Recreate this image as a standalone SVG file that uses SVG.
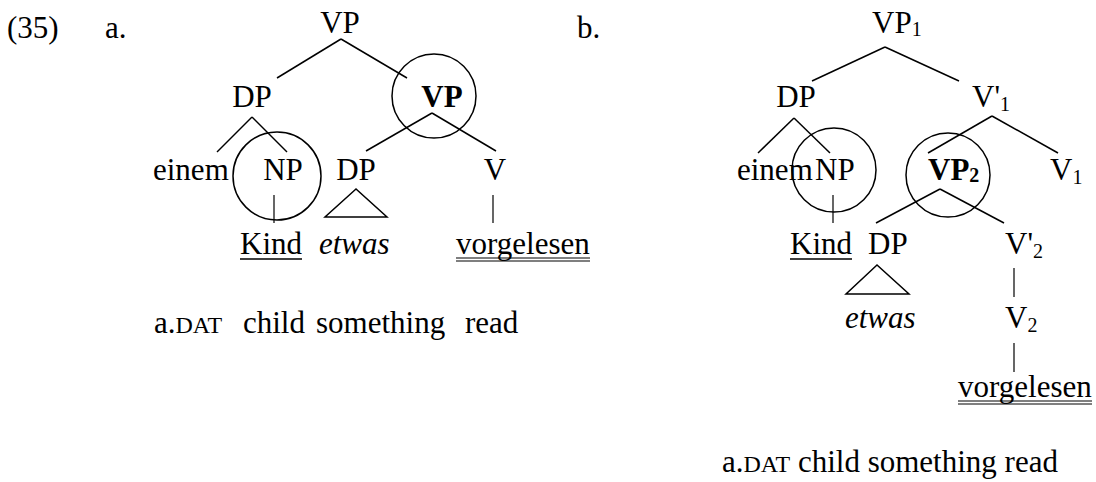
<svg xmlns="http://www.w3.org/2000/svg" width="1096" height="482" viewBox="0 0 1096 482">
<style>
text{font-family:"Liberation Serif","Times New Roman",serif;font-size:31px;fill:#000}
.m{text-anchor:middle}
.b{font-weight:bold}
.i{font-style:italic}
.sub{font-size:20px}
.sc{font-size:24px}
.e{stroke:#000;stroke-width:1.5;fill:none}
.v{stroke:#000;stroke-width:1.2;fill:none}
.c{stroke:#000;stroke-width:1.5;fill:none}
</style>
<rect width="1096" height="482" fill="#fff"/>
<g id="labels">
<text x="7" y="38">(35)</text>
<text x="105" y="38">a.</text>
<text x="577" y="38">b.</text>
</g>
<g id="connectors">
<line class="e" x1="341" y1="39" x2="277" y2="78"/>
<line class="e" x1="341" y1="39" x2="407" y2="78"/>
<line class="e" x1="252" y1="117" x2="217" y2="152"/>
<line class="e" x1="252" y1="117" x2="287" y2="152"/>
<line class="e" x1="432" y1="113" x2="366" y2="151"/>
<line class="e" x1="432" y1="113" x2="496" y2="151"/>
<line class="v" x1="274" y1="195" x2="274" y2="223"/>
<line class="v" x1="493" y1="195" x2="493" y2="223"/>
<polygon class="e" points="356,189 325,217 387,217"/>
<line class="e" x1="885" y1="47" x2="812" y2="81"/>
<line class="e" x1="885" y1="47" x2="959" y2="81"/>
<line class="e" x1="794" y1="118" x2="758" y2="153"/>
<line class="e" x1="794" y1="118" x2="830" y2="153"/>
<line class="e" x1="992" y1="116" x2="928" y2="153"/>
<line class="e" x1="992" y1="116" x2="1058" y2="153"/>
<line class="v" x1="833" y1="195" x2="833" y2="223"/>
<line class="e" x1="940" y1="189" x2="876" y2="223"/>
<line class="e" x1="940" y1="189" x2="1004" y2="223"/>
<polygon class="e" points="877,265 846,294 909,294"/>
<line class="v" x1="1014" y1="268" x2="1014" y2="297"/>
<line class="v" x1="1014" y1="343" x2="1014" y2="372"/>
</g>
<g id="treeA">
<g id="a-vp"><text class="m" x="340" y="33">VP</text></g>
<g id="a-dp"><text class="m" x="252" y="107">DP</text></g>
<g id="a-vp2"><circle class="c" cx="434" cy="96" r="42"/><text class="m b" x="442" y="107">VP</text></g>
<g id="a-einem"><text x="153" y="180">einem</text></g>
<g id="a-np"><circle class="c" cx="277" cy="176" r="44"/><text class="m" x="283" y="180">NP</text></g>
<g id="a-dp2"><text class="m" x="356" y="180">DP</text></g>
<g id="a-v"><text class="m" x="495" y="180">V</text></g>
<g id="a-kind"><text x="240" y="254">Kind</text><line class="e" x1="240" y1="259" x2="302" y2="259"/></g>
<g id="a-etwas"><text class="i" x="319" y="254">etwas</text></g>
<g id="a-vorgelesen"><text x="456" y="254">vorgelesen</text><line class="v" x1="456" y1="258" x2="590" y2="258"/><line class="v" x1="456" y1="261" x2="590" y2="261"/></g>
<g id="a-gloss"><text y="333"><tspan x="154">a.</tspan><tspan class="sc">DAT</tspan><tspan x="243">child</tspan><tspan x="316">something</tspan><tspan x="465">read</tspan></text></g>
</g>
<g id="treeB">
<g id="b-vp1"><text x="872" y="33">VP<tspan class="sub" dy="3">1</tspan></text></g>
<g id="b-dp"><text class="m" x="796" y="107">DP</text></g>
<g id="b-v1bar"><text x="972" y="107">V'<tspan class="sub" dy="4">1</tspan></text></g>
<g id="b-einem"><text x="737" y="180">einem</text></g>
<g id="b-np"><circle class="c" cx="834" cy="170" r="42"/><text x="815" y="180">NP</text></g>
<g id="b-vp2"><circle class="c" cx="948" cy="175" r="42"/><text class="b" x="928" y="180">VP<tspan class="sub" dy="2">2</tspan></text></g>
<g id="b-v1"><text x="1050" y="180">V<tspan class="sub" dy="4">1</tspan></text></g>
<g id="b-kind"><text x="790" y="254">Kind</text><line class="e" x1="790" y1="259" x2="852" y2="259"/></g>
<g id="b-dp2"><text x="868" y="254">DP</text></g>
<g id="b-v2bar"><text x="1005" y="254">V'<tspan class="sub" dy="4">2</tspan></text></g>
<g id="b-etwas"><text class="i" x="845" y="328">etwas</text></g>
<g id="b-v2"><text x="1005" y="328">V<tspan class="sub" dy="4">2</tspan></text></g>
<g id="b-vorgelesen"><text x="958" y="397">vorgelesen</text><line class="v" x1="958" y1="401" x2="1092" y2="401"/><line class="v" x1="958" y1="404" x2="1092" y2="404"/></g>
<g id="b-gloss"><text x="722" y="472">a.<tspan class="sc">DAT</tspan> child something read</text></g>
</g>
</svg>
